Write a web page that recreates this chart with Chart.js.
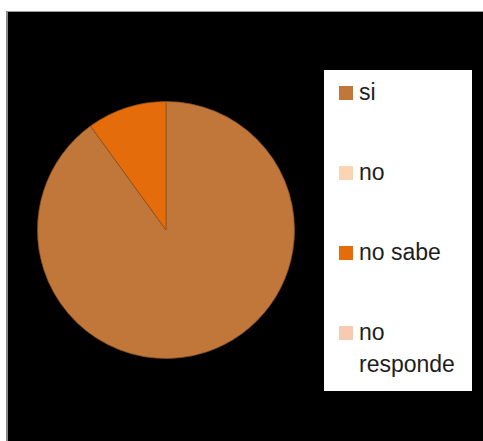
<!DOCTYPE html>
<html>
<head>
<meta charset="utf-8">
<script src="https://cdn.jsdelivr.net/npm/chart.js@4"></script>
<style>
  html, body { margin: 0; padding: 0; background: #fff; }
  body { width: 483px; height: 441px; position: relative; overflow: hidden; }
  #marco {
    position: absolute; left: 6px; top: 11px; right: 0; bottom: 0;
    background: #000;
    border-left: 2px solid #8a8a8a;
    border-top: 1px solid #9a9a9a;
  }
  #torta { position: absolute; left: 37px; top: 101px; }
  #leyenda {
    position: absolute; left: 324px; top: 70px; width: 148px; height: 321px;
    background: #fff;
  }
  .item { position: absolute; left: 15px; }
  .caja { position: absolute; left: 0; top: 10px; width: 14px; height: 14px; }
  .texto {
    position: absolute; left: 20px; top: 0; width: 120px;
    font-family: "Liberation Sans", Arial, sans-serif;
    font-size: 23px; line-height: 32px; color: #1e1e1e;
  }
</style>
</head>
<body>
<div id="marco"></div>
<canvas id="torta" width="258" height="258"></canvas>
<div id="leyenda"></div>

<script>
const categorias = ['si', 'no', 'no sabe', 'no responde'];
const valores = [90, 0, 10, 0];
const colores = ['#C1763A', '#FBD4B4', '#E46C0A', '#F7CAB2'];

const chart = new Chart(document.getElementById('torta'), {
    type: 'pie',
    data: {
        labels: categorias,
        datasets: [{
            data: valores,
            backgroundColor: colores,
            borderColor: 'rgba(140, 80, 30, 0.7)', // bordes finos entre porciones
            borderWidth: 1
        }]
    },
    options: {
        responsive: false,
        animation: false,
        layout: { padding: 0 },
        plugins: {
            legend: { display: false },
            tooltip: { enabled: false }
        }
    }
});

// leyenda a la derecha, armada con las etiquetas del grafico
const leyenda = document.getElementById('leyenda');
const posiciones = [6, 86, 166, 246];
chart.options.plugins.legend.labels.generateLabels(chart).forEach(function (it, i) {
    const item = document.createElement('div');
    item.className = 'item';
    item.style.top = posiciones[i] + 'px';
    const caja = document.createElement('div');
    caja.className = 'caja';
    caja.style.background = it.fillStyle;
    const texto = document.createElement('div');
    texto.className = 'texto';
    texto.textContent = it.text;
    item.appendChild(caja);
    item.appendChild(texto);
    leyenda.appendChild(item);
});
</script>
</body>
</html>
